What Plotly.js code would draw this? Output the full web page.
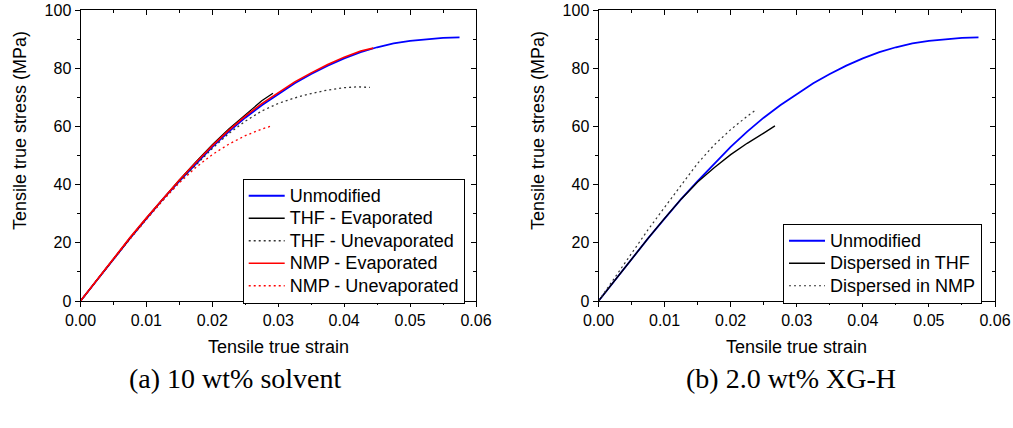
<!DOCTYPE html>
<html>
<head>
<meta charset="utf-8">
<script src="https://cdn.plot.ly/plotly-3.0.1.min.js"></script>
<style>html,body{margin:0;padding:0;background:#fff}#chart{width:1013px;height:428px}</style>
</head>
<body>
<div id="chart"></div>
<script>
// ---------- data ----------
const xTickVals = [0, 0.01, 0.02, 0.03, 0.04, 0.05, 0.06];
const xTickText = ["0.00", "0.01", "0.02", "0.03", "0.04", "0.05", "0.06"];
const yTickVals = [0, 20, 40, 60, 80, 100];
const yTickText = ["0", "20", "40", "60", "80", "100"];

// Unmodified (same in both panels)
const unmodStrain = [0,0.0025,0.005,0.0075,0.01,0.0125,0.015,0.0175,0.02,0.0225,0.025,0.0275,0.03,0.0325,0.035,0.0375,0.04,0.0425,0.045,0.0475,0.05,0.0525,0.055,0.0575];
const unmodStress = [0,7.3,14.5,21.5,28.3,35,41.2,47.2,53,58.2,63,67.3,71.2,74.8,78,80.9,83.4,85.5,87.2,88.5,89.4,90,90.4,90.6];

// Panel (a): 10 wt% solvent
const thfEvapStrain = [0,0.0025,0.005,0.0075,0.01,0.0125,0.015,0.0175,0.02,0.0225,0.025,0.0275,0.0292];
const thfEvapStress = [0,7.3,14.6,21.6,28.5,35.2,41.6,47.8,53.7,59.1,64.1,68.8,71.4];

const thfUnevapStrain = [0,0.005,0.01,0.015,0.02,0.0225,0.025,0.0275,0.03,0.0325,0.035,0.0375,0.04,0.042,0.0439];
const thfUnevapStress = [0,14.5,28.2,41,52.4,57.6,61.8,65.3,67.9,69.8,71.3,72.5,73.3,73.6,73.4];

const nmpEvapStrain = [0,0.0025,0.005,0.0075,0.01,0.0125,0.015,0.0175,0.02,0.0225,0.025,0.0275,0.03,0.0325,0.035,0.0375,0.04,0.0425,0.0444];
const nmpEvapStress = [0,7.4,14.7,21.8,28.6,35.3,41.6,47.6,53.4,58.7,63.5,67.8,71.7,75.3,78.4,81.3,83.8,85.9,86.9];

const nmpUnevapStrain = [0,0.0025,0.005,0.0075,0.01,0.0125,0.015,0.0175,0.02,0.0225,0.025,0.0275,0.0289];
const nmpUnevapStress = [0,7.2,14.3,21.3,28,34.6,40.6,45.9,50.3,53.9,56.8,59.1,60.1];

// Panel (b): 2.0 wt% XG-H
const dispThfStrain = [0,0.0025,0.005,0.0075,0.01,0.0125,0.015,0.0175,0.02,0.0225,0.025,0.0267];
const dispThfStress = [0,7.3,14.5,21.5,28.4,35,40.9,45.8,50.3,54.2,57.7,60.2];

const dispNmpStrain = [0,0.0025,0.005,0.0075,0.01,0.0125,0.015,0.0175,0.02,0.0225,0.0239];
const dispNmpStress = [0,8.3,16.6,24.5,32.2,39.8,47.3,53.6,58.9,63.5,65.8];

const legendA = ["Unmodified", "THF - Evaporated", "THF - Unevaporated", "NMP - Evaporated", "NMP - Unevaporated"];
const legendB = ["Unmodified", "Dispersed in THF", "Dispersed in NMP"];
const captions = ["(a) 10 wt% solvent", "(b) 2.0 wt% XG-H"];
const xTitle = "Tensile true strain";
const yTitle = "Tensile true stress (MPa)";

// ---------- geometry ----------
const W = 1013, H = 428;
const px = v => v / W, py = v => 1 - v / H;
const domA = [px(80.5), px(476)];
const domB = [px(598.5), px(995)];
const domY = [py(301), py(10)];

const sans = "Liberation Sans, Arial, sans-serif";
const tickFont = {family: sans, size: 16, color: "#000"};

function xAx(domain, extra) {
  return Object.assign({
    domain: domain, range: [0, 0.06], tickmode: "array", tickvals: xTickVals, ticktext: xTickText,
    ticks: "outside", ticklen: 5, tickwidth: 1, tickcolor: "#000",
    minor: {dtick: 0.005, ticks: "outside", ticklen: 3, tickwidth: 1, tickcolor: "#000"},
    showline: true, linecolor: "#000", linewidth: 1, mirror: true,
    showgrid: false, zeroline: false, tickfont: tickFont, fixedrange: true
  }, extra || {});
}
function yAx(extra) {
  return Object.assign({
    domain: domY, range: [0, 100], tickmode: "array", tickvals: yTickVals, ticktext: yTickText,
    ticks: "outside", ticklen: 5, tickwidth: 1, tickcolor: "#000",
    minor: {dtick: 10, ticks: "outside", ticklen: 3, tickwidth: 1, tickcolor: "#000"},
    showline: true, linecolor: "#000", linewidth: 1, mirror: true,
    showgrid: false, zeroline: false, tickfont: tickFont, fixedrange: true
  }, extra || {});
}
function inner(o) {
  return Object.assign(o, {ticks: "inside", showticklabels: false,
    minor: Object.assign({}, o.minor, {ticks: "inside"})});
}

// legend labels drawn larger than the legend's row-spacing font
const big = s => '<span style="font-size:18px">' + s + '</span>';

const blue = "#0000ff", red = "#ff0000", black = "#000000";
const dotted = "2px,3px";

const traces = [
  {x: unmodStrain, y: unmodStress, name: big(legendA[0]), mode: "lines", line: {color: blue, width: 1.8}, xaxis: "x", yaxis: "y", legend: "legend"},
  {x: thfEvapStrain, y: thfEvapStress, name: big(legendA[1]), mode: "lines", line: {color: black, width: 1.3}, xaxis: "x", yaxis: "y", legend: "legend"},
  {x: thfUnevapStrain, y: thfUnevapStress, name: big(legendA[2]), mode: "lines", line: {color: "#333", width: 1.3, dash: dotted}, xaxis: "x", yaxis: "y", legend: "legend"},
  {x: nmpEvapStrain, y: nmpEvapStress, name: big(legendA[3]), mode: "lines", line: {color: red, width: 1.6}, xaxis: "x", yaxis: "y", legend: "legend"},
  {x: nmpUnevapStrain, y: nmpUnevapStress, name: big(legendA[4]), mode: "lines", line: {color: red, width: 1.3, dash: dotted}, xaxis: "x", yaxis: "y", legend: "legend"},

  {x: unmodStrain, y: unmodStress, name: big(legendB[0]), mode: "lines", line: {color: blue, width: 1.8}, xaxis: "x2", yaxis: "y2", legend: "legend2"},
  {x: dispThfStrain, y: dispThfStress, name: big(legendB[1]), mode: "lines", line: {color: black, width: 1.4}, xaxis: "x2", yaxis: "y2", legend: "legend2"},
  {x: dispNmpStrain, y: dispNmpStress, name: big(legendB[2]), mode: "lines", line: {color: "#333", width: 1.2, dash: dotted}, xaxis: "x2", yaxis: "y2", legend: "legend2"},

  // empty traces so the inward-tick mirror axes are drawn
  {x: [], y: [], xaxis: "x3", yaxis: "y3", showlegend: false, hoverinfo: "skip"},
  {x: [], y: [], xaxis: "x4", yaxis: "y4", showlegend: false, hoverinfo: "skip"}
];

const legendStyle = {
  bgcolor: "#fff", bordercolor: "#000", borderwidth: 1,
  font: {family: sans, size: 15, color: "#000"},
  xanchor: "left", yanchor: "top", tracegroupgap: 0, itemwidth: 36
};

const titleFont = {family: sans, size: 18, color: "#000"};
const capFont = {family: "Liberation Serif, Times New Roman, serif", size: 28, color: "#000"};

const layout = {
  width: W, height: H, margin: {l: 0, r: 0, t: 0, b: 0},
  paper_bgcolor: "#fff", plot_bgcolor: "#fff", showlegend: true,
  xaxis: xAx(domA, {anchor: "y"}),
  yaxis: yAx({anchor: "x"}),
  xaxis2: xAx(domB, {anchor: "y2"}),
  yaxis2: yAx({anchor: "x2"}),
  xaxis3: inner(xAx(domA, {anchor: "y", overlaying: "x", side: "top"})),
  yaxis3: inner(yAx({anchor: "x", overlaying: "y", side: "right"})),
  xaxis4: inner(xAx(domB, {anchor: "y2", overlaying: "x2", side: "top"})),
  yaxis4: inner(yAx({anchor: "x2", overlaying: "y2", side: "right"})),
  legend: Object.assign({}, legendStyle, {x: px(242.7), y: py(178.5)}),
  legend2: Object.assign({}, legendStyle, {x: px(783), y: py(223.5)}),
  annotations: [
    {text: xTitle, xref: "paper", yref: "paper", x: px(278), y: py(347), showarrow: false, font: titleFont, xanchor: "center", yanchor: "middle"},
    {text: xTitle, xref: "paper", yref: "paper", x: px(796), y: py(347), showarrow: false, font: titleFont, xanchor: "center", yanchor: "middle"},
    {text: yTitle, xref: "paper", yref: "paper", x: px(20), y: py(131), showarrow: false, font: titleFont, textangle: -90, xanchor: "center", yanchor: "middle"},
    {text: yTitle, xref: "paper", yref: "paper", x: px(538), y: py(131), showarrow: false, font: titleFont, textangle: -90, xanchor: "center", yanchor: "middle"},
    {text: captions[0], xref: "paper", yref: "paper", x: px(235), y: py(378), showarrow: false, font: capFont, xanchor: "center", yanchor: "middle"},
    {text: captions[1], xref: "paper", yref: "paper", x: px(791), y: py(378), showarrow: false, font: capFont, xanchor: "center", yanchor: "middle"}
  ]
};

Plotly.newPlot("chart", traces, layout, {displayModeBar: false, staticPlot: true});
</script>
</body>
</html>
